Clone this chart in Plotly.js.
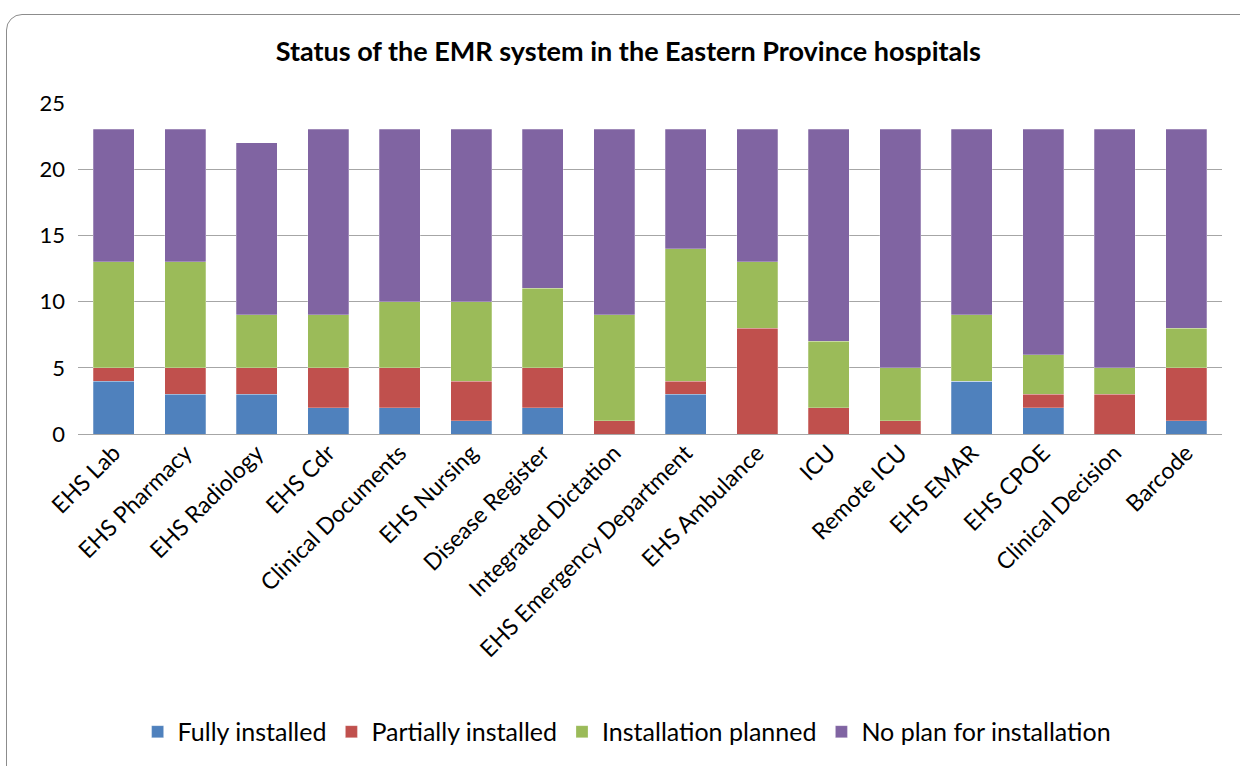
<!DOCTYPE html>
<html>
<head>
<meta charset="utf-8">
<script src="https://cdn.plot.ly/plotly-3.0.1.min.js"></script>
<style>
  body { margin: 0; background: #fff; }
  #frame { position: absolute; left: 6px; top: 14px; width: 1260px; height: 780px;
           border: 1.5px solid #8c8c8c; border-radius: 16px; }
  #chart { position: absolute; left: 0; top: 0; }
</style>
</head>
<body>
<div id="frame"></div>
<div id="chart"></div>
<script>
var systems = ['EHS Lab', 'EHS Pharmacy', 'EHS Radiology', 'EHS Cdr', 'Clinical Documents',
  'EHS Nursing', 'Disease Register', 'Integrated Dictation', 'EHS Emergency Department',
  'EHS Ambulance', 'ICU', 'Remote ICU', 'EHS EMAR', 'EHS CPOE', 'Clinical Decision', 'Barcode'];

var fully     = [4, 3, 3, 2, 2, 1, 2, 0, 3, 0, 0, 0, 4, 2, 0, 1];
var partially = [1, 2, 2, 3, 3, 3, 3, 1, 1, 8, 2, 1, 0, 1, 3, 4];
var planned   = [8, 8, 4, 4, 5, 6, 6, 8, 10, 5, 5, 4, 5, 3, 2, 3];
var noPlan    = [10, 10, 13, 14, 13, 13, 12, 14, 9, 10, 16, 18, 14, 17, 18, 15];

var font = 'Lato, "Open Sans", sans-serif';

function bar(name, y, color) {
  return {
    type: 'bar', name: name, x: systems, y: y,
    marker: {color: color, line: {color: 'rgba(255,255,255,0.5)', width: 0.5}},
    hoverinfo: 'x+y+name'
  };
}

var data = [
  bar('Fully installed', fully, '#4F81BD'),
  bar('Partially installed', partially, '#C0504D'),
  bar('Installation planned', planned, '#9BBB59'),
  bar('No plan for installation', noPlan, '#8064A2')
];

var layout = {
  width: 1240, height: 766,
  paper_bgcolor: 'rgba(0,0,0,0)',
  plot_bgcolor: 'rgba(0,0,0,0)',
  barmode: 'stack',
  bargap: 0.42,
  margin: {l: 78, r: 18, t: 103, b: 330},
  font: {family: font, color: '#000', size: 22},
  title: {
    text: '<b>Status of the EMR system in the Eastern Province hospitals</b>',
    font: {family: font, size: 27, color: '#000'},
    x: 0.481, xref: 'paper', xanchor: 'center',
    y: 53, yref: 'container', yanchor: 'middle'
  },
  xaxis: {
    tickangle: -45,
    tickfont: {family: font, size: 23},
    showgrid: false,
    showline: false,
    ticks: ''
  },
  yaxis: {
    range: [0, 25],
    dtick: 5,
    tickfont: {family: font, size: 22},
    showgrid: true,
    gridcolor: '#a6a6a6',
    gridwidth: 1,
    zeroline: true,
    zerolinecolor: '#a6a6a6',
    showline: false,
    ticks: '',
    ticklabelstandoff: 12
  },
  showlegend: true,
  legend: {
    orientation: 'h',
    x: 0.48, xanchor: 'center',
    y: -0.9, yanchor: 'middle',
    font: {family: font, size: 25},
    traceorder: 'normal',
    itemclick: false
  }
};

Plotly.newPlot('chart', data, layout, {displayModeBar: false, staticPlot: true});
</script>
</body>
</html>
